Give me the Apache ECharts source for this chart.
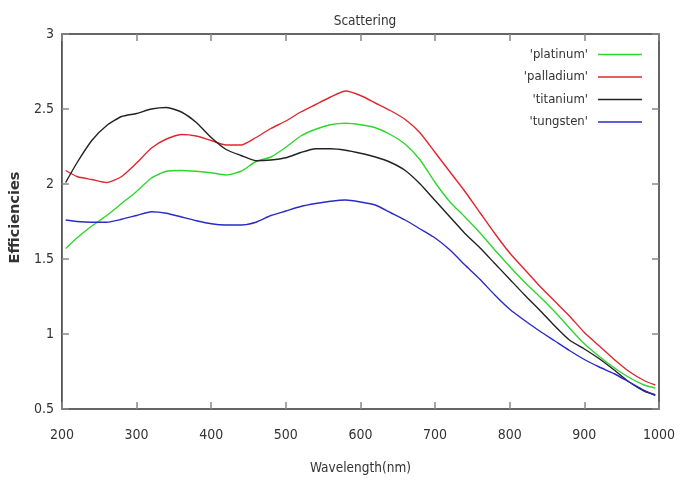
<!DOCTYPE html>
<html>
<head>
<meta charset="utf-8">
<script src="https://cdn.jsdelivr.net/npm/echarts@6/dist/echarts.min.js"></script>
<style>
  html, body { margin: 0; padding: 0; background: #fff; }
  #container { width: 682px; height: 481px; }
</style>
</head>
<body>
<div id="container"></div>
<script>
// wavelengths (nm) the curves were read at
var wavelength = [205, 220, 240, 260, 280, 300, 320, 340, 360, 380, 400, 420, 440, 460, 480, 500, 520, 540, 560, 580,
    600, 620, 640, 660, 680, 700, 720, 740, 760, 780, 800, 820, 840, 860, 880, 900, 920, 940, 960, 980, 995];

var platinum = [1.57, 1.64, 1.72, 1.79, 1.87, 1.95, 2.04, 2.085, 2.09, 2.085, 2.075, 2.06, 2.085, 2.15, 2.18, 2.245, 2.32, 2.365, 2.395, 2.405,
    2.395, 2.375, 2.33, 2.265, 2.16, 2.01, 1.88, 1.78, 1.675, 1.56, 1.45, 1.345, 1.25, 1.15, 1.04, 0.935, 0.85, 0.775, 0.71, 0.66, 0.64];

var palladium = [2.09, 2.05, 2.03, 2.01, 2.05, 2.14, 2.24, 2.30, 2.33, 2.32, 2.29, 2.26, 2.26, 2.31, 2.37, 2.42, 2.48, 2.53, 2.58, 2.62,
    2.59, 2.54, 2.49, 2.43, 2.34, 2.21, 2.08, 1.95, 1.81, 1.67, 1.54, 1.43, 1.32, 1.22, 1.12, 1.01, 0.92, 0.83, 0.75, 0.69, 0.66];

var titanium = [2.01, 2.14, 2.29, 2.39, 2.45, 2.47, 2.50, 2.51, 2.48, 2.41, 2.31, 2.23, 2.19, 2.155, 2.16, 2.175, 2.21, 2.235, 2.235, 2.225,
    2.205, 2.18, 2.145, 2.09, 2.00, 1.89, 1.78, 1.67, 1.575, 1.47, 1.365, 1.26, 1.16, 1.055, 0.96, 0.90, 0.835, 0.76, 0.68, 0.62, 0.595];

var tungsten = [1.76, 1.75, 1.745, 1.745, 1.765, 1.79, 1.815, 1.805, 1.78, 1.755, 1.735, 1.727, 1.727, 1.745, 1.79, 1.82, 1.85, 1.87, 1.885, 1.893,
    1.88, 1.86, 1.81, 1.76, 1.70, 1.64, 1.56, 1.46, 1.365, 1.26, 1.165, 1.09, 1.02, 0.955, 0.89, 0.83, 0.78, 0.735, 0.68, 0.625, 0.59];

var seriesNames = ["'platinum'", "'palladium'", "'titanium'", "'tungsten'"];
var seriesColors = ['#2fd62f', '#e2262e', '#222222', '#2a2ac8'];

var xTicks = { min: 200, max: 1000, interval: 100 };
var yTicks = { min: 0.5, max: 3, interval: 0.5 };

function pairs(ys) {
    return wavelength.map(function (x, i) { return [x, ys[i]]; });
}

var font = '"DejaVu Sans Condensed", "DejaVu Sans", sans-serif';

var dom = document.getElementById('container');
var myChart = echarts.init(dom, null, { renderer: 'canvas' });

var tickStyle = { show: true, inside: true, length: 7, lineStyle: { color: '#888', width: 1.5 } };

var option = {
    animation: false,
    title: {
        text: 'Scattering',
        left: 360,
        top: 9,
        textAlign: 'center',
        textStyle: { fontFamily: font, fontSize: 13.5, fontWeight: 'normal', color: '#333' }
    },
    legend: {
        orient: 'vertical',
        right: 40,
        top: 48,
        padding: 0,
        align: 'right',
        icon: 'rect',
        itemWidth: 44,
        itemHeight: 1.5,
        itemGap: 9.5,
        textStyle: { fontFamily: font, fontSize: 13, color: '#333', padding: [0, 5, 0, 0] },
        data: seriesNames
    },
    grid: {
        left: 59, right: 23, top: 34, bottom: 72,
        show: true,
        borderColor: '#333',
        borderWidth: 1.5,
        backgroundColor: '#fff'
    },
    xAxis: [{
        type: 'value',
        min: xTicks.min, max: xTicks.max, interval: xTicks.interval,
        position: 'bottom',
        name: 'Wavelength(nm)',
        nameLocation: 'middle',
        nameGap: 52,
        nameTextStyle: { fontFamily: font, fontSize: 13.5, color: '#333' },
        axisLine: { show: false },
        axisTick: tickStyle,
        axisLabel: { fontFamily: font, fontSize: 14, color: '#333', margin: 19, formatter: function (v) { return String(v); } },
        splitLine: { show: false }
    }, {
        type: 'value',
        min: xTicks.min, max: xTicks.max, interval: xTicks.interval,
        position: 'top',
        axisLine: { show: false },
        axisTick: tickStyle,
        axisLabel: { show: false },
        splitLine: { show: false }
    }],
    yAxis: [{
        type: 'value',
        min: yTicks.min, max: yTicks.max, interval: yTicks.interval,
        position: 'left',
        name: 'Efficiencies',
        nameLocation: 'middle',
        nameGap: 34,
        nameTextStyle: { fontFamily: '"DejaVu Sans", sans-serif', fontSize: 14.5, fontWeight: 'bold', color: '#333', padding: [0, 0, 0, 8] },
        axisLine: { show: false },
        axisTick: tickStyle,
        axisLabel: { fontFamily: font, fontSize: 14, color: '#333', margin: 8 },
        splitLine: { show: false }
    }, {
        type: 'value',
        min: yTicks.min, max: yTicks.max, interval: yTicks.interval,
        position: 'right',
        axisLine: { show: false },
        axisTick: tickStyle,
        axisLabel: { show: false },
        splitLine: { show: false }
    }],
    series: [platinum, palladium, titanium, tungsten].map(function (vals, i) {
        return {
            name: seriesNames[i],
            type: 'line',
            data: pairs(vals),
            symbol: 'none',
            smooth: 0.2,
            lineStyle: { color: seriesColors[i], width: 1.4 },
            itemStyle: { color: seriesColors[i] }
        };
    })
};

if (option && typeof option === 'object') {
    myChart.setOption(option);
}

window.addEventListener('resize', myChart.resize);
</script>
</body>
</html>
